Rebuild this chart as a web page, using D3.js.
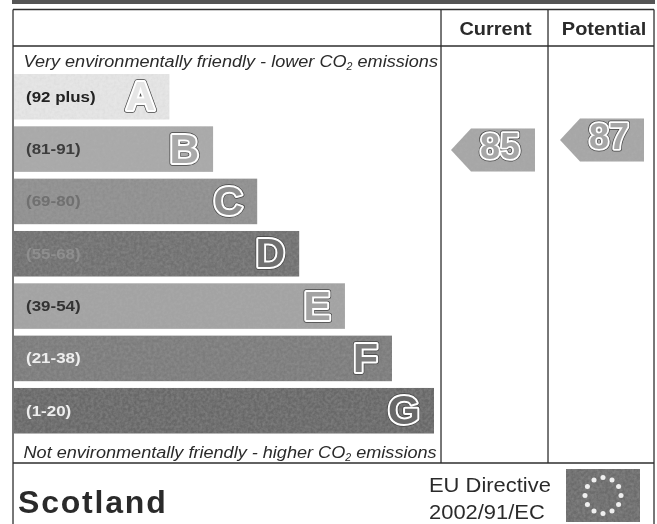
<!DOCTYPE html>
<html>
<head>
<meta charset="utf-8">
<script src="https://cdn.jsdelivr.net/npm/d3@7"></script>
<style>
  html, body { margin: 0; background: #fff; }
  svg { display: block; font-family: 'Liberation Sans', Arial, sans-serif; }
</style>
</head>
<body>
<div id="chart"></div>
<script>
const letters = ['A', 'B', 'C', 'D', 'E', 'F', 'G']
const ranges = ['(92 plus)', '(81-91)', '(69-80)', '(55-68)', '(39-54)', '(21-38)', '(1-20)']
// bar length as a percentage of the longest band
const barLengths = [37, 47.4, 57.9, 67.9, 78.8, 90, 100]
const barGreys = ['#e6e6e6', '#a9a9a9', '#8f8f8f', '#707070', '#a3a3a3', '#7c7c7c', '#686868']
const rangeGreys = ['#222', '#3c3c3c', '#6f6f6f', '#8e8e8e', '#333', '#eee', '#eee']
const columns = ['Current', 'Potential']
const scores = [85, 87]

const width = 657
const height = 524

const svg = d3.select('#chart').append('svg')
  .attr('width', width)
  .attr('height', height)

const defs = svg.append('defs')

// scanned look: slight blur over everything
defs.append('filter').attr('id', 'scan')
  .attr('x', 0).attr('y', 0).attr('width', '100%').attr('height', '100%')
  .append('feGaussianBlur').attr('stdDeviation', 0.5)

// photocopy grain for the filled shapes
const grain = defs.append('filter').attr('id', 'grain')
  .attr('x', 0).attr('y', 0).attr('width', '100%').attr('height', '100%')
grain.append('feTurbulence')
  .attr('type', 'fractalNoise').attr('baseFrequency', 0.35).attr('numOctaves', 2).attr('seed', 4)
  .attr('result', 'noise')
grain.append('feColorMatrix').attr('in', 'noise').attr('type', 'matrix')
  .attr('values', '0 0 0 0 0.5  0 0 0 0 0.5  0 0 0 0 0.5  0.35 0 0 0 -0.1')
  .attr('result', 'speck')
grain.append('feComposite').attr('in', 'speck').attr('in2', 'SourceGraphic').attr('operator', 'in')
  .attr('result', 'clipped')
grain.append('feMerge').selectAll('feMergeNode')
  .data(['SourceGraphic', 'clipped'])
  .join('feMergeNode').attr('in', (d) => d)

const root = svg.append('g').attr('filter', 'url(#scan)')

const x = d3.scaleLinear().domain([0, 100]).range([14, 434])
const y = d3.scaleBand().domain(letters).range([74, 433.5]).paddingInner(0.13)
// vertical place of a pointer follows the score within the B band
const scoreY = d3.scaleLinear().domain([81, 91]).range([170, 120])
const colLeft = { Current: 441, Potential: 548 }
const titleCentre = { Current: 495.5, Potential: 604 }

// the scan is wider than it is tall, so text gets stretched sideways
const placed = (px, py, sx) => `translate(${px},${py}) scale(${sx},1)`

// strip cut off at the top of the scan
root.append('rect')
  .attr('x', 12).attr('y', 0).attr('width', 643).attr('height', 4)
  .attr('fill', '#555')

// frame
const ink = '#2e2e2e'
const rules = [
  [13, 9.5, 654, 9.5],
  [13, 46, 654, 46],
  [13, 463, 654, 463],
  [13, 9.5, 13, 524],
  [654, 9.5, 654, 524],
  [441, 9.5, 441, 463],
  [548, 9.5, 548, 463],
]
root.append('g').selectAll('line')
  .data(rules)
  .join('line')
  .attr('x1', (d) => d[0]).attr('y1', (d) => d[1])
  .attr('x2', (d) => d[2]).attr('y2', (d) => d[3])
  .attr('stroke', ink)
  .attr('stroke-width', 1.3)

// column titles
root.append('g').selectAll('text')
  .data(columns)
  .join('text')
  .attr('transform', (d) => placed(titleCentre[d], 35, 1.08))
  .attr('text-anchor', 'middle')
  .attr('font-size', 18.5)
  .attr('font-weight', 700)
  .attr('fill', '#2a2a2a')
  .text((d) => d)

// outlined glyphs: dark edge, white ring, fill showing the shape colour
function outlined(parent, attrs, label, fill, edge, ring) {
  const layers = [
    { fill: 'none', stroke: '#444', sw: edge },
    { fill: 'none', stroke: '#fff', sw: ring },
    { fill, stroke: 'none', sw: 0 },
  ]
  layers.forEach((l) => {
    const t = parent.append('text')
      .attr('x', attrs.x)
      .attr('y', attrs.y)
      .attr('text-anchor', attrs.anchor)
      .attr('font-size', attrs.size)
      .attr('font-weight', 700)
      .attr('fill', l.fill)
      .attr('stroke', l.stroke)
      .attr('stroke-width', l.sw)
      .attr('stroke-linejoin', 'round')
      .text(label)
    if (l.fill === 'none') t.attr('aria-hidden', 'true')
  })
}

// bands
const bands = root.append('g').selectAll('g')
  .data(letters)
  .join('g')

bands.append('rect')
  .attr('x', x(0))
  .attr('y', (d) => y(d))
  .attr('width', (d, i) => x(barLengths[i]) - x(0))
  .attr('height', y.bandwidth())
  .attr('fill', (d, i) => barGreys[i])
  .attr('filter', 'url(#grain)')

bands.append('text')
  .attr('transform', (d) => placed(26, y(d) + y.bandwidth() / 2 + 5, 1.13))
  .attr('font-size', 15)
  .attr('font-weight', 700)
  .attr('fill', (d, i) => rangeGreys[i])
  .text((d, i) => ranges[i])

bands.each(function (d, i) {
  outlined(d3.select(this), {
    x: x(barLengths[i]) - 14,
    y: y(d) + y.bandwidth() / 2 + 13.5,
    anchor: 'end',
    size: 41,
  }, d, barGreys[i], 5.4, 4)
})

// italic captions with subscript 2
const captions = [
  { before: 'Very environmentally friendly - lower CO', after: ' emissions', base: 67 },
  { before: 'Not environmentally friendly - higher CO', after: ' emissions', base: 458 },
]
captions.forEach((c) => {
  const t = root.append('text')
    .attr('transform', placed(23.5, c.base, 1.065))
    .attr('font-size', 17)
    .attr('font-style', 'italic')
    .attr('fill', '#2a2a2a')
  t.append('tspan').text(c.before)
  t.append('tspan').attr('font-size', 10).attr('dy', 3).text('2')
  t.append('tspan').attr('dy', -3).text(c.after)
})

// score pointers
const pointer = d3.line()
scores.forEach((s, i) => {
  const col = columns[i]
  const cy = scoreY(s)
  const tipX = colLeft[col] + 10 + (i === 1 ? 2 : 0)
  const half = 21.5
  const g = root.append('g')
  g.append('path')
    .attr('d', pointer([
      [tipX, cy],
      [tipX + 20, cy - half],
      [tipX + 84, cy - half],
      [tipX + 84, cy + half],
      [tipX + 20, cy + half],
    ]) + 'Z')
    .attr('fill', '#a6a6a6')
    .attr('filter', 'url(#grain)')
  outlined(g, { x: tipX + 49, y: cy + 9, anchor: 'middle', size: 36 }, s, '#a6a6a6', 5, 3.6)
})

// footer
root.append('text')
  .attr('x', 18)
  .attr('y', 513)
  .attr('font-size', 32)
  .attr('font-weight', 700)
  .attr('letter-spacing', 1.8)
  .attr('fill', '#2c2c2c')
  .text('Scotland')

root.append('g').selectAll('text')
  .data(['EU Directive', '2002/91/EC'])
  .join('text')
  .attr('transform', (d, i) => placed(429, 491.5 + i * 27.5, 1.07))
  .attr('font-size', 20.5)
  .attr('fill', '#2c2c2c')
  .text((d) => d)

// EU flag
const flag = { x: 566, y: 469, w: 74, h: 53 }
root.append('rect')
  .attr('x', flag.x).attr('y', flag.y).attr('width', flag.w).attr('height', flag.h)
  .attr('fill', '#6c6c6c')
  .attr('filter', 'url(#grain)')
const star = d3.symbol().type(d3.symbolCircle).size(20)
root.append('g').selectAll('path')
  .data(d3.range(12))
  .join('path')
  .attr('d', star)
  .attr('fill', '#efefef')
  .attr('transform', (d) => {
    const a = (d / 12) * 2 * Math.PI
    const px = flag.x + flag.w / 2 + Math.sin(a) * 18
    const py = flag.y + flag.h / 2 - Math.cos(a) * 18
    return `translate(${px},${py})`
  })
</script>
</body>
</html>
